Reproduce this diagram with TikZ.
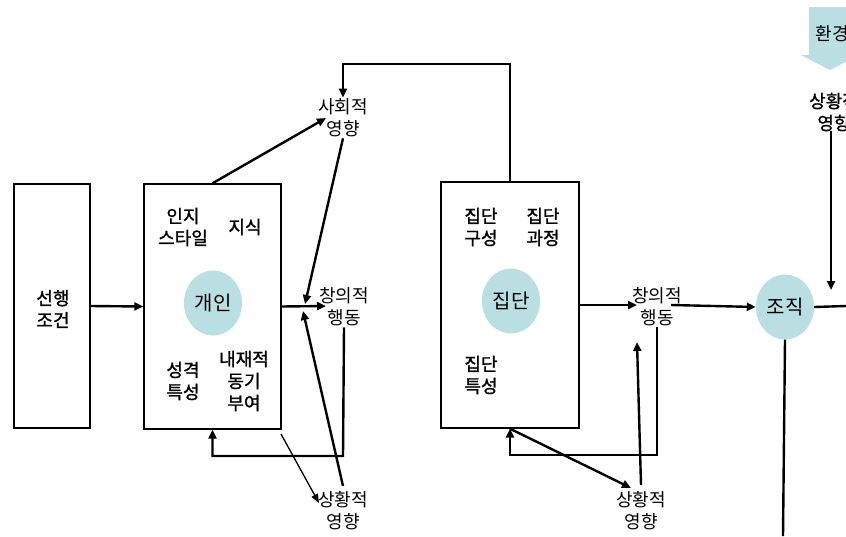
\documentclass[tikz,border=0pt]{standalone}
\usepackage{fontspec}
\setmainfont{Noto Sans CJK KR}
\newfontfamily\krmed[FakeBold=1.2]{Noto Sans CJK KR}
\usetikzlibrary{arrows.meta,shapes.geometric}
\definecolor{circfill}{HTML}{B9DFE3}
\begin{document}
\begin{tikzpicture}[x=1pt,y=-1pt,
  frame/.style={draw,line width=1.4pt,inner sep=0pt},
  blob/.style={ellipse,fill=circfill,minimum width=58pt,minimum height=65pt,inner sep=0pt,font=\fontsize{20}{22}\selectfont},
  boxlbl/.style={align=center,inner sep=0pt,font=\fontsize{18}{22}\selectfont\krmed},
  flowlbl/.style={align=center,inner sep=1pt,font=\fontsize{18}{22}\selectfont},
  arr/.style={line width=2.4pt,-{Triangle[length=9pt,width=8pt]}},
  ln/.style={line width=2.4pt},
  thinarr/.style={line width=1.3pt,-{Triangle[length=9pt,width=7pt]}}
]
\useasboundingbox (0,0) rectangle (846,536);

% boxes
\node[frame,minimum width=76pt,minimum height=244pt] (pre) at (52,306) {};
\node[boxlbl] (preT) at (53,309) {선행\\조건};
\node[frame,minimum width=137pt,minimum height=245pt] (ind) at (212.5,306.5) {};
\node[frame,minimum width=138pt,minimum height=246pt] (grp) at (510,305) {};

% circles
\node[blob] (indC) at (213,303) {개인};
\node[blob] (grpC) at (511,301) {집단};
\node[blob] (org) at (785,307) {조직};

% inner labels
\node[boxlbl] (cog) at (183,227) {인지\\스타일};
\node[boxlbl] (know) at (245,227) {지식};
\node[boxlbl] (pers) at (183,381) {성격\\특성};
\node[boxlbl] (moti) at (244,381) {내재적\\동기\\부여};
\node[boxlbl] (gcomp) at (481,227) {집단\\구성};
\node[boxlbl] (gproc) at (543,227) {집단\\과정};
\node[boxlbl] (gchar) at (481,375) {집단\\특성};

% flow labels
\node[flowlbl] (soc) at (343,118) {사회적\\영향};
\node[flowlbl] (cr1) at (344,307) {창의적\\행동};
\node[flowlbl] (sit1) at (343,511) {상황적\\영향};
\node[flowlbl] (cr2) at (657,307) {창의적\\행동};
\node[flowlbl] (sit2) at (641,511) {상황적\\영향};
\node[boxlbl] (sit3) at (834,112) {상황적\\영향};

% environment arrow
\fill[circfill] (809,7) -- (851,7) -- (851,55) -- (859,55) -- (830,70) -- (801,55) -- (809,55) -- cycle;
\node[flowlbl] (env) at (832,34) {환경};

% coordinates
\coordinate (socIn) at (326,118);
\coordinate (topL) at (343,64);
\coordinate (mergeA) at (305,304);
\coordinate (mergeB) at (303,311);
\coordinate (cr1In) at (326,306);
\coordinate (sit1Top) at (343,486);
\coordinate (fb1) at (343,456);
\coordinate (indBR) at (281,434);
\coordinate (sit1In) at (319,503);
\coordinate (cr2In) at (637,305);
\coordinate (cr2Out) at (671,305);
\coordinate (fb2) at (657,455);
\coordinate (sit2In) at (631,488);
\coordinate (sit2Top) at (641,485);
\coordinate (cr2Up) at (637,342);
\coordinate (orgR) at (846,306);
\coordinate (orgD) at (783,536);
\coordinate (sit3Bot) at (831,290);

% individual side
\draw[arr] (pre.east) -- (ind.west);
\draw[arr] (ind.north) -- (socIn);
\draw[arr] (grp.north) |- (topL) -- (soc.north);
\draw[arr] (soc.south) -- (mergeA);
\draw[arr] (ind.east) -- (cr1In);
\draw[arr] (sit1Top) -- (mergeB);
\draw[arr] (cr1.south) -- (fb1) -| (ind.south);
\draw[thinarr] (indBR) -- (sit1In);

% group side
\draw[arr] (grp.east) -- (cr2In);
\draw[arr] (cr2Out) -- (org.west);
\draw[arr] (cr2.south) |- (fb2) -| (grp.south);
\draw[arr] (grp.south) -- (sit2In);
\draw[arr] (sit2Top) -- (cr2Up);

% organisation
\draw[ln] (org.east) -- (orgR);
\draw[ln] (org.south) -- (orgD);
\draw[arr] (sit3.south -| sit3Bot) -- (sit3Bot);
\end{tikzpicture}
\end{document}
